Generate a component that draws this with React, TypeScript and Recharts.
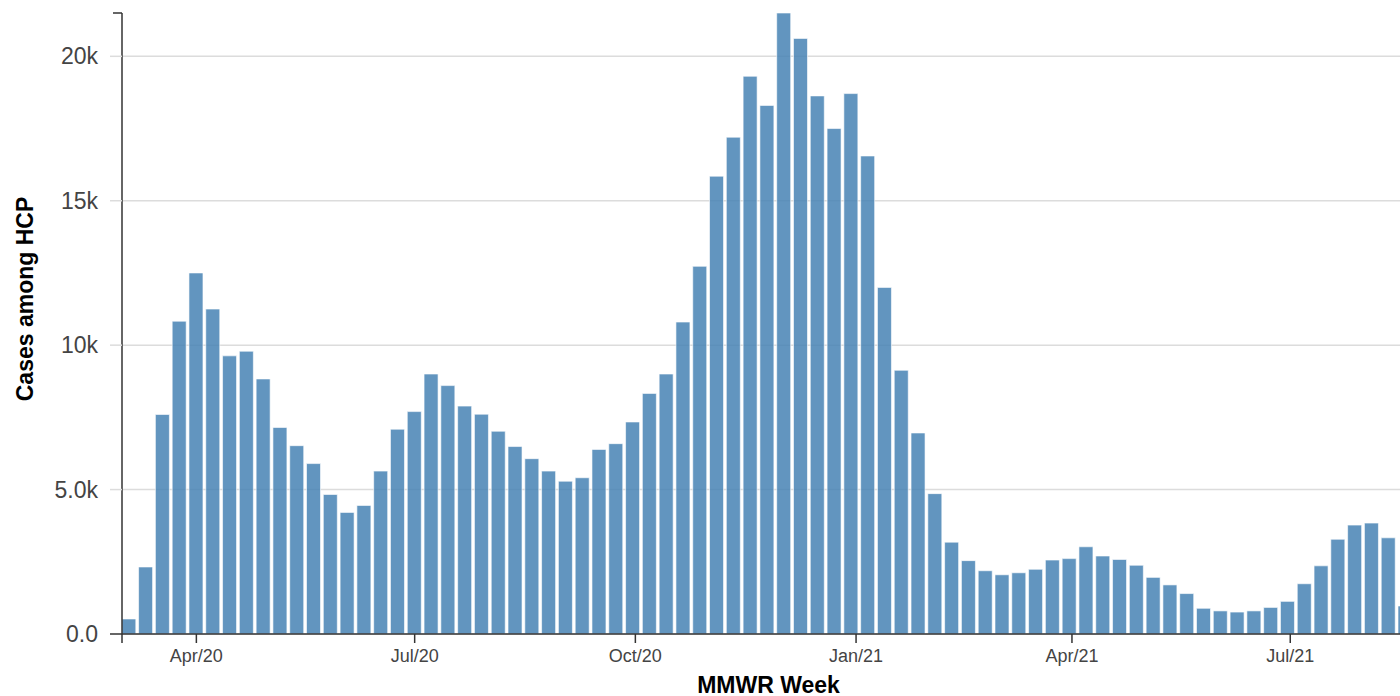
import { BarChart, Bar, XAxis, YAxis, CartesianGrid, Label } from "recharts";

const DAY = 86400000;
const toTime = (d: string) => Date.parse(d + "T00:00:00Z");

// MMWR weeks start on Sunday; first week shown is the one starting 2020-03-01
const firstWeekStart = "2020-03-01";
const axisEnd = "2021-08-22";

// weekly cases among healthcare personnel
const weeklyCases = [
  520, 2320, 7600, 10830, 12500, 11250, 9630, 9790, 8830, 7150,
  6520, 5900, 4830, 4210, 4450, 5640, 7090, 7700, 9000, 8600,
  7890, 7610, 7020, 6490, 6070, 5640, 5290, 5410, 6390, 6590,
  7340, 8330, 9000, 10800, 12730, 15850, 17200, 19310, 18300, 21500,
  20620, 18630, 17500, 18710, 16550, 12000, 9130, 6960, 4860, 3180,
  2540, 2190, 2050, 2120, 2240, 2560, 2610, 3020, 2700, 2580,
  2380, 1960, 1700, 1400, 890, 800, 760, 800, 920, 1130,
  1740, 2360, 3280, 3770, 3840, 3330, 970,
];

const xTickDates = ["2020-04-01", "2020-07-01", "2020-10-01", "2021-01-01", "2021-04-01", "2021-07-01"];
const xTickLabels = ["Apr/20", "Jul/20", "Oct/20", "Jan/21", "Apr/21", "Jul/21"];

const yTicks = [0, 5000, 10000, 15000, 20000];
const yTickLabels = ["0.0", "5.0k", "10k", "15k", "20k"];
const yMax = 21500;

const AXIS = "#333";
const GRID = "#dcdcdc";
const LABEL = "#444";

const start = toTime(firstWeekStart);
const end = toTime(axisEnd);

// bars are centred mid-week (Sun..Sat)
const data = weeklyCases.map((cases, i) => ({
  t: start + (i * 7 + 3) * DAY,
  cases,
}));

const xTicks = [start, ...xTickDates.map(toTime)];

function formatX(v: number): string {
  const i = xTickDates.map(toTime).indexOf(v);
  return i >= 0 ? xTickLabels[i] : "";
}

function YTick(props: any) {
  const { x, y, payload } = props;
  const v = payload.value;
  const axisX = x + 24;
  if (v === yMax) {
    return <line x1={axisX - 9} x2={axisX} y1={y} y2={y} stroke={AXIS} strokeWidth={1.5} />;
  }
  const i = yTicks.indexOf(v);
  return (
    <g>
      <line x1={axisX - 12} x2={axisX} y1={y} y2={y} stroke={v === 0 ? AXIS : GRID} strokeWidth={1.5} />
      <text x={x} y={y} dy="0.355em" textAnchor="end" fontSize={23} fill={LABEL}>
        {yTickLabels[i]}
      </text>
    </g>
  );
}

export default function App() {
  return (
    <div
      style={{
        position: "absolute",
        left: 0,
        top: 0,
        width: 1400,
        height: 696,
        overflow: "hidden",
        background: "#fff",
        fontFamily: "'Liberation Sans', Arial, sans-serif",
      }}
    >
      <BarChart width={1425} height={696} data={data} margin={{ top: 13, right: 10, bottom: 0, left: 0 }}>
        <CartesianGrid horizontal vertical={false} horizontalValues={yTicks} stroke={GRID} strokeWidth={1.5} />
        <XAxis
          dataKey="t"
          type="number"
          domain={[start, end]}
          allowDataOverflow
          ticks={xTicks}
          interval={0}
          tickFormatter={formatX}
          height={62}
          tickSize={9}
          tickMargin={6}
          axisLine={{ stroke: AXIS, strokeWidth: 1.5 }}
          tickLine={{ stroke: AXIS, strokeWidth: 1.5 }}
          tick={{ fill: LABEL, fontSize: 18 }}
        >
          <Label value="MMWR Week" position="insideBottom" offset={3} style={{ fontWeight: "bold", fontSize: 23, fill: "#000" }} />
        </XAxis>
        <YAxis
          type="number"
          domain={[0, yMax]}
          ticks={[...yTicks, yMax]}
          interval={0}
          width={122}
          tickSize={12}
          tickMargin={12}
          tickLine={false}
          axisLine={{ stroke: AXIS, strokeWidth: 1.5 }}
          tick={<YTick />}
        >
          <Label
            content={() => (
              <text
                x={33}
                y={299}
                transform="rotate(-90, 33, 299)"
                textAnchor="middle"
                fontSize={23}
                fontWeight="bold"
                fill="#000"
              >
                Cases among HCP
              </text>
            )}
          />
        </YAxis>
        <Bar
          dataKey="cases"
          fill="#4682b4"
          fillOpacity={0.85}
          stroke="#ffffff"
          strokeOpacity={0.6}
          strokeWidth={1}
          barSize={14}
          isAnimationActive={false}
        />
      </BarChart>
    </div>
  );
}
